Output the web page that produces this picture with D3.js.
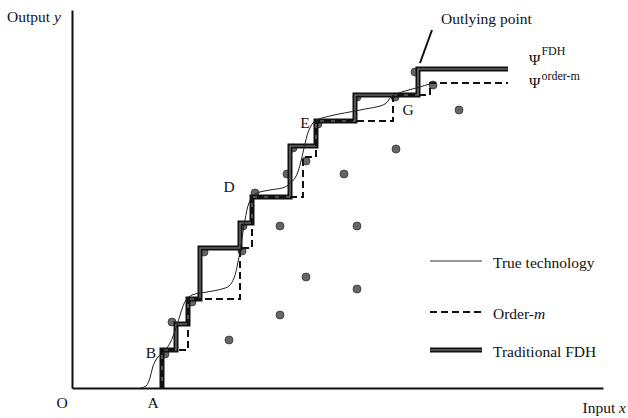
<!DOCTYPE html>
<html lang="en">
<head>
  <meta charset="UTF-8">
  <script src="https://d3js.org/d3.v7.min.js"></script>
  <title>FDH and order-m frontiers</title>
  <style>
    body { margin: 0; background: white; }
    text { font-family: "Liberation Serif", "Times New Roman", serif; font-size: 15.5px; fill: #111; }
    .axis path { stroke: #111; stroke-width: 2; }
  </style>
</head>
<body>
  <div id="chart"></div>
  <script>
    // data in arbitrary input / output units
    // FDH frontier corners (x where step rises, y reached)
    const fdhX = [90, 104, 116, 128, 168, 180, 218, 244, 283, 346];
    const fdhY = [38, 64, 89, 140, 165, 191, 242, 267, 293, 319];
    // order-m frontier corners
    const ordX = [90, 116, 168, 180, 231, 244, 321, 358];
    const ordY = [38, 89, 140, 191, 231, 267, 293, 305];
    const frontierStart = 90, frontierEnd = 436;

    // observed units
    const obsX = [93, 100, 120, 132, 170, 171, 183, 208, 285, 234, 285, 208, 157, 215, 234, 221, 272, 324, 246, 285, 323, 343, 361, 387];
    const obsY = [34, 66, 86, 136, 137, 162, 195, 162, 162, 111, 99, 73, 48, 214, 227, 240, 214, 239, 264, 291, 291, 316, 303, 278];

    // true technology curve
    const trueX = [68, 74, 78, 81, 86, 91, 98, 104, 109, 114, 120, 135, 150, 157, 162, 166, 169, 173, 177, 183, 198, 213, 223, 228, 232, 237, 243, 258, 288, 313, 320, 333, 348, 363];
    const trueY = [0, 2, 10, 22, 31, 35, 45, 60, 76, 88, 93, 96, 99, 102, 110, 126, 143, 168, 185, 194, 198, 201, 210, 223, 240, 258, 267, 272, 278, 284, 292, 297, 301, 306];

    // point labels
    const labelText = ["A", "B", "D", "E", "G"];
    const labelX = [81, 79, 157, 233, 336];
    const labelY = [-20, 30, 196, 260, 273];

    const width = 628, height = 418;
    const svg = d3.select("#chart").append("svg")
      .attr("width", width).attr("height", height);

    const x = d3.scaleLinear().domain([0, 531]).range([72, 603]);
    const y = d3.scaleLinear().domain([0, 378]).range([388, 10]);

    svg.append("g").attr("class", "axis")
      .attr("transform", `translate(0,${y(0)})`)
      .call(d3.axisBottom(x).tickValues([]).tickSizeOuter(0));
    svg.append("g").attr("class", "axis")
      .attr("transform", `translate(${x(0)},0)`)
      .call(d3.axisLeft(y).tickValues([]).tickSizeOuter(0));

    // points
    svg.selectAll(".dot")
      .data(d3.range(obsX.length))
      .enter().append("circle")
      .attr("cx", i => x(obsX[i]))
      .attr("cy", i => y(obsY[i]))
      .attr("r", 4)
      .attr("fill", "#666")
      .attr("stroke", "#333")
      .attr("stroke-width", 0.8);

    const line = d3.line().x(d => x(d[0])).y(d => y(d[1]));
    const stepLine = d3.line().x(d => x(d[0])).y(d => y(d[1])).curve(d3.curveStepAfter);

    const fdhPts = [[frontierStart, 0]].concat(fdhX.map((v, i) => [v, fdhY[i]]), [[frontierEnd, fdhY[fdhY.length - 1]]]);
    const ordPts = [[frontierStart, 0]].concat(ordX.map((v, i) => [v, ordY[i]]), [[frontierEnd, ordY[ordY.length - 1]]]);
    const truePts = trueX.map((v, i) => [v, trueY[i]]);

    // traditional FDH (double line)
    svg.append("path").attr("d", stepLine(fdhPts))
      .attr("fill", "none").attr("stroke", "#111").attr("stroke-width", 5);
    svg.append("path").attr("d", stepLine(fdhPts))
      .attr("fill", "none").attr("stroke", "#8a8a8a").attr("stroke-width", 1.1);

    // order-m
    svg.append("path").attr("d", stepLine(ordPts))
      .attr("fill", "none").attr("stroke", "#111").attr("stroke-width", 2)
      .attr("stroke-dasharray", "7,4");

    // true technology
    svg.append("path").attr("d", line.curve(d3.curveCatmullRom)(truePts))
      .attr("fill", "none").attr("stroke", "#222").attr("stroke-width", 1);

    // labels
    svg.selectAll(".lbl")
      .data(labelText)
      .enter().append("text")
      .attr("x", (d, i) => x(labelX[i]))
      .attr("y", (d, i) => y(labelY[i]))
      .attr("text-anchor", "middle")
      .text(d => d);

    svg.append("text").attr("x", x(-10)).attr("y", 408).attr("text-anchor", "middle").text("O");

    const yl = svg.append("text").attr("x", 7).attr("y", 22);
    yl.append("tspan").text("Output ");
    yl.append("tspan").attr("font-style", "italic").text("y");

    const xl = svg.append("text").attr("x", 626).attr("y", 413).attr("text-anchor", "end");
    xl.append("tspan").text("Input ");
    xl.append("tspan").attr("font-style", "italic").text("x");

    // outlying point
    svg.append("text").attr("x", 441).attr("y", 24).text("Outlying point");
    svg.append("line")
      .attr("x1", 432).attr("y1", 30).attr("x2", 420).attr("y2", 63)
      .attr("stroke", "#111").attr("stroke-width", 2);

    // psi labels
    const p1 = svg.append("text").attr("x", 529).attr("y", 65).attr("font-size", "16.5px");
    p1.append("tspan").text("\u03A8");
    p1.append("tspan").attr("dy", -10).attr("dx", 1).attr("font-size", "12px").text("FDH");
    const p2 = svg.append("text").attr("x", 529).attr("y", 88).attr("font-size", "16.5px");
    p2.append("tspan").text("\u03A8");
    p2.append("tspan").attr("dy", -8).attr("dx", 1).attr("font-size", "12px").text("order-m");

    // legend
    const lg = svg.append("g");
    lg.append("line").attr("x1", 430).attr("x2", 482).attr("y1", 261).attr("y2", 261)
      .attr("stroke", "#777").attr("stroke-width", 1.3);
    lg.append("text").attr("x", 493).attr("y", 268).text("True technology");

    lg.append("line").attr("x1", 430).attr("x2", 482).attr("y1", 312).attr("y2", 312)
      .attr("stroke", "#111").attr("stroke-width", 2).attr("stroke-dasharray", "7,4");
    const om = lg.append("text").attr("x", 493).attr("y", 319);
    om.append("tspan").text("Order-");
    om.append("tspan").attr("font-style", "italic").text("m");

    lg.append("line").attr("x1", 430).attr("x2", 482).attr("y1", 350).attr("y2", 350)
      .attr("stroke", "#111").attr("stroke-width", 5);
    lg.append("line").attr("x1", 430).attr("x2", 482).attr("y1", 350).attr("y2", 350)
      .attr("stroke", "#8a8a8a").attr("stroke-width", 1);
    lg.append("text").attr("x", 493).attr("y", 357).text("Traditional FDH");
  </script>
</body>
</html>
